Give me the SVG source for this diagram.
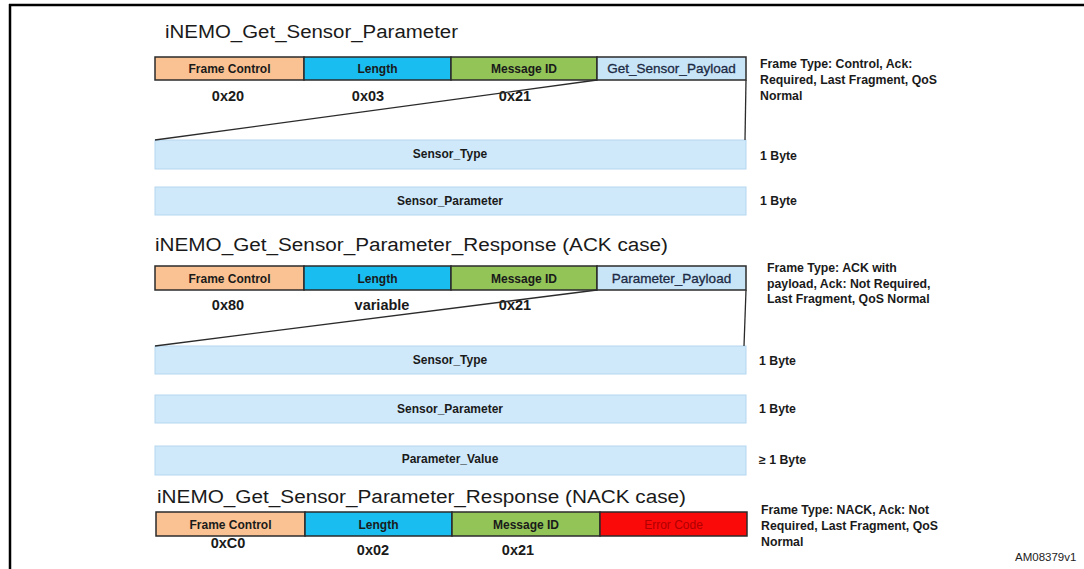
<svg xmlns="http://www.w3.org/2000/svg" width="1084" height="569" viewBox="0 0 1084 569">
<style>
.title{font-family:"Liberation Sans",Arial,sans-serif;font-size:18px;fill:#1a1a1a}
.lbl{font-family:"Liberation Sans",Arial,sans-serif;font-size:12px;font-weight:bold;fill:#1a1a1a;text-anchor:middle}
.pl{font-family:"Liberation Sans",Arial,sans-serif;font-size:13.5px;fill:#1c2a44;stroke:#1c2a44;stroke-width:0.3;text-anchor:middle}
.val{font-family:"Liberation Sans",Arial,sans-serif;font-size:14.5px;font-weight:bold;fill:#1a1a1a;text-anchor:middle}
.note{font-family:"Liberation Sans",Arial,sans-serif;font-size:12.3px;font-weight:bold;fill:#1a1a1a}
.fc{fill:#fac292;stroke:#2b2b2b;stroke-width:1.5}
.ln{fill:#19bdf0;stroke:#2b2b2b;stroke-width:1.5}
.mi{fill:#92c458;stroke:#2b2b2b;stroke-width:1.5}
.py{fill:#c8e5f8;stroke:#2b2b2b;stroke-width:1.5}
.er{fill:#fb0a0a;stroke:#2b2b2b;stroke-width:1.5}
.fld{fill:#cfe9fb;stroke:#b5d6ee;stroke-width:1}
.conn{stroke:#2b2b2b;stroke-width:1.3;fill:none}
</style>
<rect x="0" y="0" width="1084" height="569" fill="#ffffff"/>
<g id="frame" fill="none" stroke="#000" stroke-width="2.5">
<line x1="9" y1="5" x2="1084" y2="5"/>
<line x1="10" y1="4" x2="10" y2="569"/>
</g>

<g id="section1">
<text class="title" x="165" y="38" textLength="293" lengthAdjust="spacingAndGlyphs">iNEMO_Get_Sensor_Parameter</text>
<g id="s1-frame-control"><rect class="fc" x="155" y="57" width="149" height="23"/><text class="lbl" x="229.5" y="73">Frame Control</text><text class="val" x="228" y="101">0x20</text></g>
<g id="s1-length"><rect class="ln" x="304" y="57" width="147" height="23"/><text class="lbl" x="377.5" y="73">Length</text><text class="val" x="368" y="101">0x03</text></g>
<g id="s1-message-id"><rect class="mi" x="451" y="57" width="146" height="23"/><text class="lbl" x="524" y="73">Message ID</text><text class="val" x="515" y="101">0x21</text></g>
<g id="s1-payload"><rect class="py" x="597" y="57" width="149" height="23"/><text class="pl" x="671.5" y="73">Get_Sensor_Payload</text></g>
<g id="s1-note"><text class="note" x="760" y="68">Frame Type: Control, Ack:</text><text class="note" x="760" y="84">Required, Last Fragment, QoS</text><text class="note" x="760" y="100">Normal</text></g>
<g id="s1-sensor-type"><rect class="fld" x="155" y="140" width="591" height="29"/><text class="lbl" x="450" y="158">Sensor_Type</text><text class="note" x="760" y="160">1 Byte</text></g>
<g id="s1-sensor-parameter"><rect class="fld" x="155" y="187" width="591" height="28"/><text class="lbl" x="450" y="205">Sensor_Parameter</text><text class="note" x="760" y="205">1 Byte</text></g>
</g>

<g id="section2">
<text class="title" x="155" y="251" textLength="513" lengthAdjust="spacingAndGlyphs">iNEMO_Get_Sensor_Parameter_Response (ACK case)</text>
<g id="s2-frame-control"><rect class="fc" x="155" y="266" width="149" height="24"/><text class="lbl" x="229.5" y="282.5">Frame Control</text><text class="val" x="228" y="310">0x80</text></g>
<g id="s2-length"><rect class="ln" x="304" y="266" width="147" height="24"/><text class="lbl" x="377.5" y="282.5">Length</text><text class="val" x="382" y="310">variable</text></g>
<g id="s2-message-id"><rect class="mi" x="451" y="266" width="146" height="24"/><text class="lbl" x="524" y="282.5">Message ID</text><text class="val" x="515" y="310">0x21</text></g>
<g id="s2-payload"><rect class="py" x="597" y="266" width="149" height="24"/><text class="pl" x="671.5" y="282.5">Parameter_Payload</text></g>
<g id="s2-note"><text class="note" x="767" y="272">Frame Type: ACK  with</text><text class="note" x="767" y="287.5">payload, Ack: Not Required,</text><text class="note" x="767" y="303">Last Fragment, QoS Normal</text></g>
<g id="s2-sensor-type"><rect class="fld" x="155" y="346" width="591" height="28"/><text class="lbl" x="450" y="364">Sensor_Type</text><text class="note" x="759" y="365">1 Byte</text></g>
<g id="s2-sensor-parameter"><rect class="fld" x="155" y="395" width="591" height="28"/><text class="lbl" x="450" y="413">Sensor_Parameter</text><text class="note" x="759" y="413">1 Byte</text></g>
<g id="s2-parameter-value"><rect class="fld" x="155" y="446" width="591" height="29"/><text class="lbl" x="450" y="463">Parameter_Value</text><text class="note" x="759" y="464">≥ 1 Byte</text></g>
</g>

<g id="section3">
<text class="title" x="157" y="503" textLength="529" lengthAdjust="spacingAndGlyphs">iNEMO_Get_Sensor_Parameter_Response (NACK case)</text>
<g id="s3-frame-control"><rect class="fc" x="156" y="512" width="149" height="24"/><text class="lbl" x="230.5" y="528.5">Frame Control</text><text class="val" x="228" y="548">0xC0</text></g>
<g id="s3-length"><rect class="ln" x="305" y="512" width="147" height="24"/><text class="lbl" x="378.5" y="528.5">Length</text><text class="val" x="373" y="555">0x02</text></g>
<g id="s3-message-id"><rect class="mi" x="452" y="512" width="148" height="24"/><text class="lbl" x="526" y="528.5">Message ID</text><text class="val" x="518" y="555">0x21</text></g>
<g id="s3-error-code"><rect class="er" x="600" y="512" width="147" height="24"/><text class="lbl" x="673.5" y="528.5" style="fill:#b00000;font-weight:normal">Error Code</text></g>
<g id="s3-note"><text class="note" x="761" y="514">Frame Type: NACK, Ack: Not</text><text class="note" x="761" y="530">Required, Last Fragment, QoS</text><text class="note" x="761" y="546">Normal</text></g>
</g>

<g id="connectors">
<line class="conn" x1="597" y1="80" x2="155" y2="140"/>
<line class="conn" x1="746" y1="80" x2="745" y2="140"/>
<line class="conn" x1="597" y1="290" x2="155" y2="346"/>
<line class="conn" x1="746" y1="290" x2="744" y2="346"/>
</g>

<text x="1015" y="561" style="font-family:'Liberation Sans',Arial,sans-serif;font-size:11.5px;fill:#222">AM08379v1</text>
</svg>
